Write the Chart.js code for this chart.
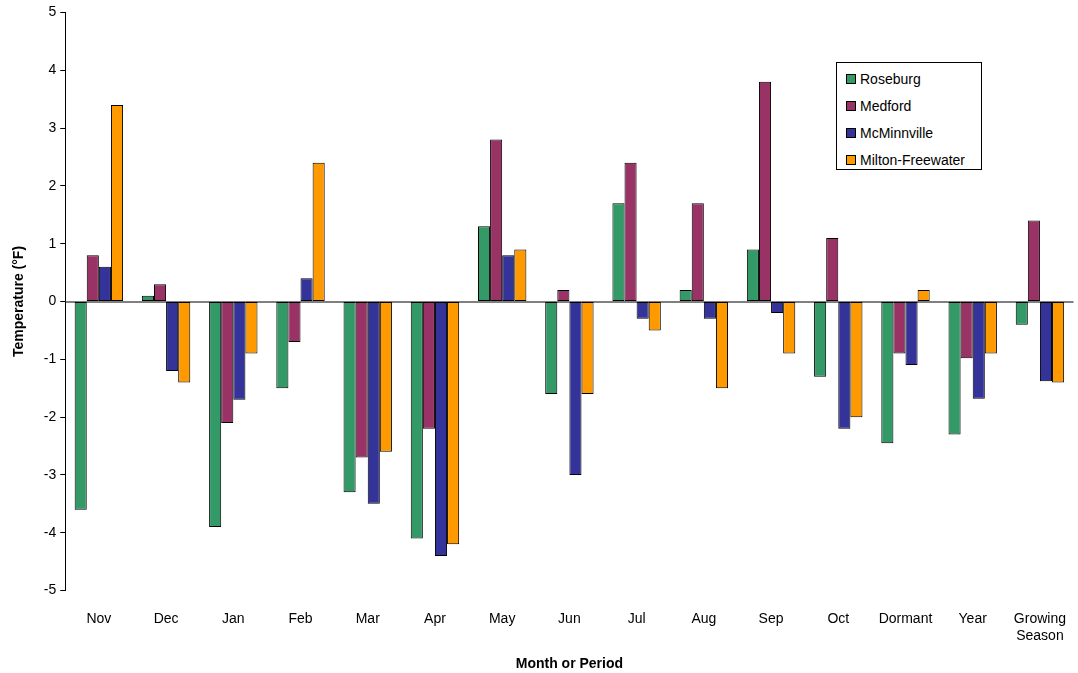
<!DOCTYPE html>
<html><head><meta charset="utf-8">
<script src="https://cdn.jsdelivr.net/npm/chart.js@4"></script>
<style>
html,body{margin:0;padding:0;background:#fff;}
#wrap{position:relative;width:1078px;height:673px;}
#legend{position:absolute;left:836px;top:62px;width:146px;height:108px;border:1px solid #000;background:#fff;font:14px "Liberation Sans",Arial,sans-serif;box-sizing:border-box;padding:2px 0 0 9px;}
#legend div{height:27px;display:flex;align-items:center;}
#legend span.b{display:inline-block;width:8px;height:8px;border:1px solid #000;margin-right:4px;}
</style></head><body>
<div id="wrap"><canvas id="c" width="1078" height="673"></canvas><div id="legend"></div></div>
<script>
const categories=["Nov","Dec","Jan","Feb","Mar","Apr","May","Jun","Jul","Aug","Sep","Oct","Dormant","Year",["Growing","Season"]];
const seriesNames=["Roseburg","Medford","McMinnville","Milton-Freewater"];
const roseburg=[-3.6,0.1,-3.9,-1.5,-3.3,-4.1,1.3,-1.6,1.7,0.2,0.9,-1.3,-2.45,-2.3,-0.4];
const medford=[0.8,0.3,-2.1,-0.7,-2.7,-2.2,2.8,0.2,2.4,1.7,3.8,1.1,-0.9,-0.98,1.4];
const mcminnville=[0.6,-1.2,-1.7,0.4,-3.5,-4.4,0.8,-3.0,-0.3,-0.3,-0.2,-2.2,-1.1,-1.68,-1.38];
const miltonFreewater=[3.4,-1.4,-0.9,2.4,-2.6,-4.2,0.9,-1.6,-0.5,-1.5,-0.9,-2.0,0.2,-0.9,-1.4];
const colors=["#339966","#993366","#333399","#FF9900"];
const allData=[roseburg,medford,mcminnville,miltonFreewater];
const font="'Liberation Sans', Arial, sans-serif";
Chart.defaults.font.family=font;Chart.defaults.color="#000";
const lg=document.getElementById('legend');
seriesNames.forEach((n,i)=>{lg.innerHTML+=`<div><span class="b" style="background:${colors[i]}"></span>${n}</div>`;});
const zeroLine={id:'zero',afterDatasetsDraw(ch){const{ctx,chartArea:a,scales:{x,y}}=ch;const y0=y.getPixelForValue(0);ctx.save();ctx.strokeStyle='#000';ctx.lineWidth=1;ctx.beginPath();ctx.moveTo(a.left,y0+0.5);ctx.lineTo(a.right,y0+0.5);ctx.stroke();ctx.restore();}};
new Chart(document.getElementById('c'),{type:'bar',
data:{labels:categories,datasets:seriesNames.map((n,i)=>({label:n,data:allData[i],backgroundColor:colors[i],borderColor:'#000',borderWidth:1,borderSkipped:false,categoryPercentage:0.72,barPercentage:1}))},
options:{responsive:false,animation:false,layout:{padding:{top:6,right:0,bottom:0,left:7}},
plugins:{legend:{display:false},tooltip:{enabled:false}},
scales:{
y:{min:-5,max:5,ticks:{stepSize:1,font:{size:14},padding:4},grid:{drawOnChartArea:false,drawTicks:true,tickLength:5,color:'#000'},border:{display:true,color:'#000'},
title:{display:true,text:'Temperature (°F)',font:{size:14,weight:'bold'},padding:{bottom:12}}},
x:{ticks:{font:{size:14},padding:12,maxRotation:0,autoSkip:false},grid:{display:false},border:{display:false},
title:{display:true,text:'Month or Period',font:{size:14,weight:'bold'},padding:{top:0,bottom:0}}}}},
plugins:[zeroLine]});
</script></body></html>
